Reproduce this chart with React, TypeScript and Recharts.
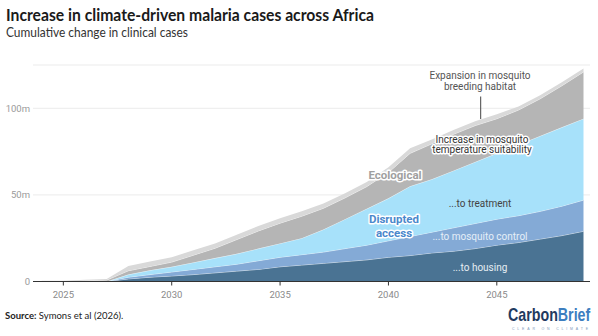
import React from "react";
import { AreaChart, Area, XAxis, YAxis, CartesianGrid } from "recharts";

const years = [
  2024, 2025, 2026, 2027, 2028, 2029, 2030, 2031, 2032, 2033, 2034, 2035, 2036,
  2037, 2038, 2039, 2040, 2041, 2042, 2043, 2044, 2045, 2046, 2047, 2048, 2049,
];
// millions of clinical cases, cumulative change
const housing = [0, 0, 0, 0, 1.5, 2.5, 3.2, 4, 5, 6, 7, 8.5, 9.5, 10.5, 11.5, 12.5, 14, 15, 16.5, 17.5, 19, 21, 22.5, 24.5, 26.5, 29];
const mosquitoControl = [0, 0, 0, 0, 1, 1.5, 2.3, 3, 3.5, 4, 5, 5.5, 6, 6.5, 7.5, 8.5, 9.5, 11, 12, 13.5, 14.5, 15, 15.5, 16, 17, 18];
const treatment = [0, 0, 0, 0, 1.5, 2.5, 3, 4, 5, 6, 7, 8, 9.5, 13, 17, 21, 24.5, 29, 30.5, 33, 35.5, 38, 41, 43.5, 45.5, 47];
const temperature = [0.2, 0.2, 0.5, 0.8, 2.2, 2.2, 2.7, 4.2, 5.7, 8.2, 10.2, 11.7, 12.7, 12.3, 12.3, 12.8, 15, 19, 20.5, 21, 21, 20, 20, 21.5, 24, 27];
const breeding = [0.3, 0.3, 0.5, 0.7, 2.8, 2.8, 2.8, 2.8, 2.8, 2.8, 2.8, 2.8, 2.8, 2.7, 2.7, 2.7, 3, 3, 2.5, 2.5, 2.5, 2.5, 2, 2, 2, 2];

const xTicks = [2025, 2030, 2035, 2040, 2045];
const yTicks = [0, 50, 100];

const data = years.map((year, i) => ({
  year,
  housing: housing[i],
  mosquitoControl: mosquitoControl[i],
  treatment: treatment[i],
  temperature: temperature[i],
  breeding: breeding[i],
}));

const font = "Roboto, 'Noto Sans', sans-serif";
const halo = { paintOrder: "stroke" as const, stroke: "#fff", strokeWidth: 3, strokeLinejoin: "round" as const };

export default function App() {
  return (
    <div style={{ position: "absolute", left: 0, top: 0, width: 598, height: 336, background: "#fff" }}>
      <AreaChart
        width={598}
        height={336}
        data={data}
        margin={{ top: 65, right: 8, bottom: 24.5, left: 0 }}
      >
        <CartesianGrid vertical={false} stroke="#ebebeb" />
        <YAxis
          type="number"
          domain={[0, 125]}
          ticks={yTicks}
          width={33}
          axisLine={false}
          tickLine={false}
          tickSize={0}
          tickMargin={3}
          tickFormatter={(v: number) => (v === 0 ? "0" : `${v}m`)}
          tick={{ fill: "#9a9a9a", fontSize: 9.5, fontFamily: font }}
        />
        <Area type="linear" dataKey="housing" stackId="1" fill="#4a7393" fillOpacity={1} stroke="#fff" strokeOpacity={0.8} strokeWidth={0.8} isAnimationActive={false} />
        <Area type="linear" dataKey="mosquitoControl" stackId="1" fill="#84aad6" fillOpacity={1} stroke="#fff" strokeOpacity={0.8} strokeWidth={0.8} isAnimationActive={false} />
        <Area type="linear" dataKey="treatment" stackId="1" fill="#a7e1fa" fillOpacity={1} stroke="#fff" strokeOpacity={0.8} strokeWidth={0.8} isAnimationActive={false} />
        <Area type="linear" dataKey="temperature" stackId="1" fill="#b5b5b5" fillOpacity={1} stroke="#fff" strokeOpacity={0.8} strokeWidth={0.8} isAnimationActive={false} />
        <Area type="linear" dataKey="breeding" stackId="1" fill="#d9d9d9" fillOpacity={1} stroke="none" isAnimationActive={false} />
        <XAxis
          dataKey="year"
          type="number"
          domain={[2023.6, 2049.3]}
          ticks={xTicks}
          height={30}
          axisLine={{ stroke: "#333", strokeWidth: 1 }}
          tickLine={{ stroke: "#333" }}
          tickSize={4}
          tickMargin={6}
          tick={{ fill: "#8a8a8a", fontSize: 9.5, fontFamily: font }}
        />
      </AreaChart>

      <svg width={598} height={336} style={{ position: "absolute", left: 0, top: 0, pointerEvents: "none" }}>
        <text x={6} y={20.5} fontFamily="Lato, sans-serif" fontWeight={700} fontSize={17} fill="#1a1a1a" textLength={368} lengthAdjust="spacingAndGlyphs">
          Increase in climate-driven malaria cases across Africa
        </text>
        <text x={6} y={37} fontFamily="Lato, sans-serif" fontSize={12.5} fill="#333" textLength={182} lengthAdjust="spacingAndGlyphs">
          Cumulative change in clinical cases
        </text>

        <g fontFamily={font} fontSize={10} textAnchor="middle">
          <text x={480} y={78.5} fill="#555">Expansion in mosquito</text>
          <text x={480} y={90} fill="#555">breeding habitat</text>
          <line x1={480.7} y1={96.5} x2={480.7} y2={119} stroke="#444" strokeWidth={1} />

          <text x={482} y={142.5} fill="#333" style={halo}>Increase in mosquito</text>
          <text x={482} y={153} fill="#333" style={halo}>temperature suitability</text>

          <text x={395} y={179} fill="#9f9f9f" fontWeight={700} fontSize={11.5} style={halo}>Ecological</text>
          <text x={394} y={223} fill="#4b88cc" fontWeight={700} fontSize={11.5} style={halo}>Disrupted</text>
          <text x={394} y={237} fill="#4b88cc" fontWeight={700} fontSize={11.5} style={halo}>access</text>

          <text x={480} y={206.5} fill="#444">...to treatment</text>
          <text x={480} y={239.5} fill="#e6eff8">...to mosquito control</text>
          <text x={480} y={270.5} fill="#e6eef4">...to housing</text>
        </g>

        <text x={5} y={319} fontFamily="Lato, sans-serif" fontSize={9.5} fill="#222">
          <tspan fontWeight={700}>Source:</tspan> Symons et al (2026).
        </text>
        <g transform="translate(508,321) scale(0.75,1)">
          <text x={0} y={0} fontFamily="'Liberation Sans', sans-serif" fontWeight={700} fontSize={19}>
            <tspan fill="#1f3a5f">Carbon</tspan>
            <tspan fill="#3d7ebf">Brief</tspan>
          </text>
        </g>
        <text x={512} y={330} fontFamily="'Liberation Sans', sans-serif" fontSize={3.5} fill="#7d9bbb" textLength={76} lengthAdjust="spacing">
          CLEAR ON CLIMATE
        </text>
      </svg>
    </div>
  );
}
